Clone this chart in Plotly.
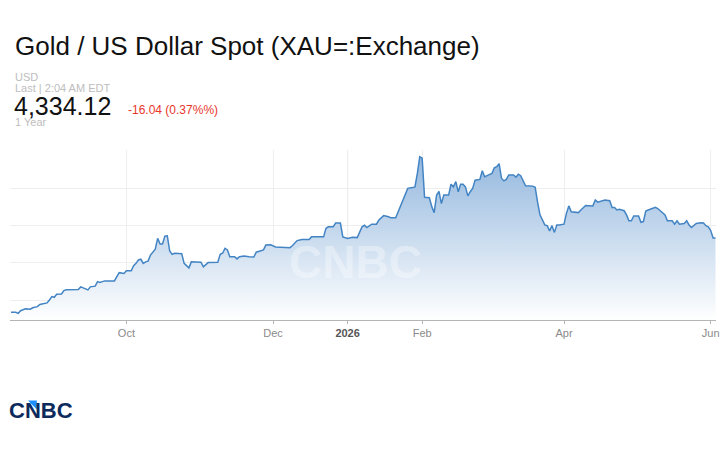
import plotly.graph_objects as go

# gold spot
dates = [
    "2025-08-14", "2025-08-16", "2025-08-17", "2025-08-18", "2025-08-20", "2025-08-22",
    "2025-08-23", "2025-08-25", "2025-08-26", "2025-08-29", "2025-08-30", "2025-08-31",
    "2025-09-01", "2025-09-02", "2025-09-04", "2025-09-05", "2025-09-06", "2025-09-11",
    "2025-09-12", "2025-09-14", "2025-09-15", "2025-09-16", "2025-09-18", "2025-09-19",
    "2025-09-20", "2025-09-21", "2025-09-22", "2025-09-26", "2025-09-27", "2025-09-28",
    "2025-09-30", "2025-10-01", "2025-10-03", "2025-10-04", "2025-10-05", "2025-10-06",
    "2025-10-07", "2025-10-08", "2025-10-09", "2025-10-10", "2025-10-11", "2025-10-12",
    "2025-10-13", "2025-10-14", "2025-10-15", "2025-10-16", "2025-10-17", "2025-10-18",
    "2025-10-19", "2025-10-20", "2025-10-21", "2025-10-24", "2025-10-25", "2025-10-26",
    "2025-10-27", "2025-10-28", "2025-11-01", "2025-11-02", "2025-11-03", "2025-11-04",
    "2025-11-08", "2025-11-09", "2025-11-10", "2025-11-11", "2025-11-12", "2025-11-13",
    "2025-11-15", "2025-11-16", "2025-11-17", "2025-11-19", "2025-11-21", "2025-11-23",
    "2025-11-24", "2025-11-26", "2025-11-27", "2025-11-28", "2025-11-30", "2025-12-02",
    "2025-12-04", "2025-12-08", "2025-12-09", "2025-12-11", "2025-12-13", "2025-12-16",
    "2025-12-17", "2025-12-22", "2025-12-23", "2025-12-24", "2025-12-26", "2025-12-27",
    "2025-12-29", "2025-12-30", "2026-01-01", "2026-01-03", "2026-01-05", "2026-01-07",
    "2026-01-08", "2026-01-09", "2026-01-11", "2026-01-13", "2026-01-14", "2026-01-15",
    "2026-01-16", "2026-01-18", "2026-01-19", "2026-01-21", "2026-01-22", "2026-01-23",
    "2026-01-24", "2026-01-25", "2026-01-26", "2026-01-28", "2026-01-29", "2026-01-30",
    "2026-01-31", "2026-02-01", "2026-02-02", "2026-02-04", "2026-02-05", "2026-02-06",
    "2026-02-07", "2026-02-08", "2026-02-09", "2026-02-10", "2026-02-12", "2026-02-13",
    "2026-02-14", "2026-02-15", "2026-02-16", "2026-02-17", "2026-02-18", "2026-02-19",
    "2026-02-20", "2026-02-21", "2026-02-22", "2026-02-23", "2026-02-25", "2026-02-26",
    "2026-02-27", "2026-02-28", "2026-03-02", "2026-03-03", "2026-03-04", "2026-03-05",
    "2026-03-06", "2026-03-07", "2026-03-08", "2026-03-09", "2026-03-11", "2026-03-12",
    "2026-03-13", "2026-03-14", "2026-03-15", "2026-03-16", "2026-03-19", "2026-03-20",
    "2026-03-21", "2026-03-22", "2026-03-24", "2026-03-25", "2026-03-26", "2026-03-27",
    "2026-03-28", "2026-03-29", "2026-03-30", "2026-04-01", "2026-04-02", "2026-04-03",
    "2026-04-04", "2026-04-06", "2026-04-07", "2026-04-08", "2026-04-10", "2026-04-13",
    "2026-04-14", "2026-04-15", "2026-04-18", "2026-04-20", "2026-04-21", "2026-04-22",
    "2026-04-23", "2026-04-24", "2026-04-26", "2026-04-27", "2026-04-28", "2026-04-29",
    "2026-04-30", "2026-05-02", "2026-05-03", "2026-05-04", "2026-05-05", "2026-05-06",
    "2026-05-08", "2026-05-09", "2026-05-10", "2026-05-12", "2026-05-13", "2026-05-14",
    "2026-05-16", "2026-05-17", "2026-05-18", "2026-05-19", "2026-05-20", "2026-05-21",
    "2026-05-22", "2026-05-23", "2026-05-24", "2026-05-25", "2026-05-26", "2026-05-28",
    "2026-05-29", "2026-05-30", "2026-05-31", "2026-06-01", "2026-06-02", "2026-06-03",
]
prices = [
    3340, 3340, 3325, 3360, 3385, 3380,
    3400, 3415, 3445, 3465, 3505, 3550,
    3540, 3580, 3585, 3630, 3640, 3645,
    3680, 3650, 3640, 3680, 3690, 3750,
    3740, 3750, 3760, 3760, 3825, 3870,
    3860, 3895, 3895, 3965, 3995, 4040,
    4050, 3995, 4015, 4025, 4105, 4145,
    4185, 4330, 4255, 4255, 4360, 4365,
    4160, 4115, 4130, 4125, 3995, 3965,
    3935, 4015, 4010, 3950, 3980, 4005,
    4010, 4115, 4130, 4195, 4175, 4085,
    4085, 4055, 4085, 4095, 4085, 4080,
    4145, 4170, 4175, 4240, 4245, 4215,
    4210, 4205, 4230, 4300, 4315, 4315,
    4350, 4350, 4465, 4485, 4485, 4535,
    4535, 4350, 4330, 4345, 4340, 4485,
    4505, 4475, 4520, 4520, 4575, 4600,
    4635, 4620, 4605, 4605, 4685, 4755,
    4845, 4935, 5000, 5010, 5020, 5200,
    5425, 5405, 4880, 4875, 4755, 4675,
    4910, 4960, 4795, 4910, 4910, 5055,
    5020, 5090, 4955, 5055, 5055, 5020,
    4900, 4955, 5000, 5110, 5120, 5235,
    5155, 5170, 5200, 5275, 5290, 5330,
    5135, 5100, 5120, 5180, 5180, 5150,
    5190, 5170, 5110, 5035, 5030, 5015,
    4815, 4645, 4510, 4500, 4430, 4500,
    4410, 4510, 4510, 4520, 4665, 4765,
    4685, 4680, 4675, 4710, 4770, 4765,
    4845, 4815, 4845, 4835, 4745, 4745,
    4710, 4720, 4700, 4645, 4565, 4565,
    4630, 4630, 4545, 4555, 4695, 4710,
    4735, 4745, 4730, 4680, 4645, 4565,
    4565, 4520, 4565, 4520, 4520, 4530,
    4565, 4510, 4475, 4510, 4530, 4540,
    4535, 4500, 4485, 4435, 4335, 4334.12,
]

tick_dates = ["2025-10-01", "2025-12-01", "2026-01-01", "2026-02-01", "2026-04-01", "2026-06-01"]
tick_labels = ["Oct", "Dec", "<b style='color:#555'>2026</b>", "Feb", "Apr", "Jun"]
grid_levels = [3500, 4000, 4500, 5000]

FONT = "Liberation Sans, Arial, sans-serif"
Y_MIN, Y_MAX = 3236, 5514

fig = go.Figure()
fig.add_trace(go.Scatter(
    x=dates, y=prices, mode="lines",
    line=dict(color="#4384c4", width=1.5),
    fill="tozeroy",
    fillgradient=dict(type="vertical",
                      colorscale=[[0, "rgba(255,255,255,1)"], [1, "rgb(148,184,222)"]],
                      start=Y_MIN, stop=5425),
    hoverinfo="x+y",
))

# darker gridline at the year boundary
fig.add_shape(type="line", x0="2026-01-01", x1="2026-01-01", y0=0, y1=1,
              xref="x", yref="paper", line=dict(color="#d6d6d6", width=1), layer="below")

fig.add_annotation(text="<b>CNBC</b>", x=0.49, y=0.34, xref="paper", yref="paper",
                   showarrow=False, font=dict(family=FONT, size=46, color="rgba(255,255,255,0.35)"))

def label(text, x, y, size, color, family=FONT):
    fig.add_annotation(text=text, x=x, y=y, xref="paper", yref="paper", xanchor="left",
                       yanchor="middle", showarrow=False, borderpad=0,
                       font=dict(family=family, size=size, color=color))

# header texts (paper coords: x=(px-10)/710, y=(320-py)/170)
label("USD", 0.0056, 1.4265, 11, "#bdbdbd")
label("Last | 2:04 AM EDT", 0.0056, 1.3618, 11, "#bdbdbd")
label("4,334.12", 0.0042, 1.2588, 25, "#111111")
label("-16.04 (0.37%%)", 0.1662, 1.2335, 12, "#e8352c")
label("1 Year", 0.0056, 1.1647, 11, "#bdbdbd")

# logo
label("<b>CNBC</b>", -0.003, -0.535, 22, "#0c2a5c")
fig.add_shape(type="path", xref="paper", yref="paper",
              path="M 0.0254 -0.4735 L 0.0380 -0.4735 L 0.0380 -0.5265 Z",
              fillcolor="#1f8fff", line=dict(width=0))

fig.update_layout(
    width=720, height=450,
    margin=dict(l=10, r=0, t=150, b=130),
    paper_bgcolor="white", plot_bgcolor="white",
    showlegend=False,
    title=dict(text="Gold / US Dollar Spot (XAU=:Exchange)", x=15 / 720, y=1 - 46 / 450,
               xref="container", yref="container", xanchor="left", yanchor="middle",
               font=dict(family=FONT, size=26, color="#111111")),
    font=dict(family=FONT),
    xaxis=dict(type="date", range=["2025-08-13 14:00", "2026-06-03 05:00"],
               tickvals=tick_dates, ticktext=tick_labels, ticklabeloverflow="allow",
               showgrid=True, gridcolor="#eeeeee", gridwidth=1,
               showline=True, linecolor="#b4b4b4", linewidth=1,
               ticks="outside", ticklen=3, tickcolor="#b4b4b4",
               tickfont=dict(size=11, color="#8a8a8a"), zeroline=False),
    yaxis=dict(range=[Y_MIN, Y_MAX], tickvals=grid_levels, showticklabels=False,
               showgrid=True, gridcolor="#eeeeee", gridwidth=1, zeroline=False),
)

# the page's default body margin would push the 720x450 figure off the window
fig.write_html("out.html", config={"displayModeBar": False},
               post_script="document.body.style.margin='0';")
